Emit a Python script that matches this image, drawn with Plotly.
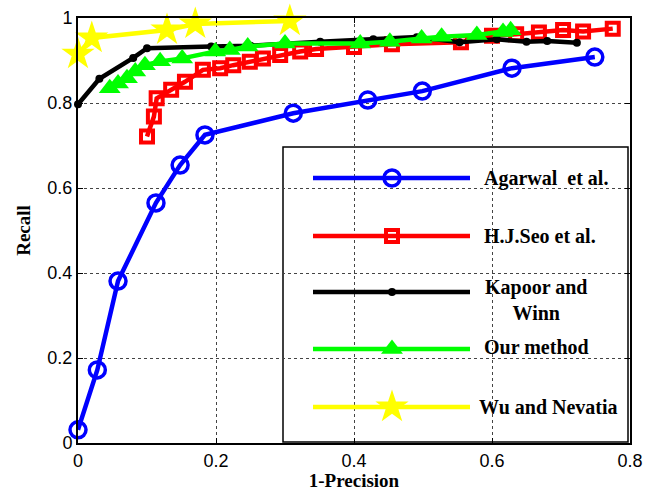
import plotly.graph_objects as go

# ---- data ----
agarwal_x = [0, 0.028, 0.058, 0.113, 0.148, 0.184, 0.312, 0.42, 0.499, 0.629, 0.749]
agarwal_y = [0.031, 0.172, 0.381, 0.565, 0.654, 0.725, 0.776, 0.807, 0.828, 0.882, 0.908]

seo_x = [0.100, 0.110, 0.114, 0.135, 0.155, 0.181, 0.206, 0.225, 0.249, 0.268, 0.293, 0.322,
         0.345, 0.40, 0.455, 0.555, 0.60, 0.635, 0.668, 0.703, 0.732, 0.775]
seo_y = [0.721, 0.768, 0.811, 0.831, 0.850, 0.878, 0.882, 0.889, 0.897, 0.905, 0.913, 0.921,
         0.927, 0.932, 0.938, 0.943, 0.958, 0.962, 0.966, 0.972, 0.968, 0.975]

kapoor_x = [0, 0.031, 0.080, 0.100, 0.193, 0.25, 0.351, 0.428, 0.491, 0.553, 0.607, 0.650, 0.680, 0.723]
kapoor_y = [0.797, 0.857, 0.906, 0.929, 0.933, 0.935, 0.944, 0.950, 0.955, 0.943, 0.950, 0.944, 0.946, 0.942]

our_x = [0.046, 0.058, 0.071, 0.083, 0.097, 0.119, 0.151, 0.199, 0.22, 0.246, 0.30,
         0.409, 0.452, 0.498, 0.527, 0.578, 0.616, 0.627]
our_y = [0.835, 0.846, 0.858, 0.874, 0.889, 0.898, 0.905, 0.921, 0.925, 0.933, 0.940,
         0.940, 0.944, 0.952, 0.956, 0.960, 0.967, 0.971]

wu_x = [0, 0.02, 0.129, 0.17, 0.307]
wu_y = [0.915, 0.953, 0.972, 0.986, 0.993]

names = ["Agarwal  et al.", "H.J.Seo et al.", "Kapoor and<br>Winn", "Our method", "Wu and Nevatia"]
x_ticks = [0, 0.2, 0.4, 0.6, 0.8]
x_tick_text = ["0", "0.2", "0.4", "0.6", "0.8"]
y_ticks = [0, 0.2, 0.4, 0.6, 0.8, 1]
y_tick_text = ["0", "0.2", "0.4", "0.6", "0.8", "1"]

# ---- styles ----
styles = [
    dict(color="#0000FF", symbol="circle-open", size=16, mlw=3.5),
    dict(color="#FF0000", symbol="square-open", size=12, mlw=4),
    dict(color="#000000", symbol="circle", size=8, mlw=0),
    dict(color="#00FF00", symbol="triangle-up", size=19, mlw=0),
    dict(color="#FFFF00", symbol="star", size=25, mlw=0),
]
series = [(agarwal_x, agarwal_y), (seo_x, seo_y), (kapoor_x, kapoor_y), (our_x, our_y), (wu_x, wu_y)]

fig = go.Figure()
for (xs, ys), st, nm in zip(series, styles, names):
    fig.add_trace(go.Scatter(
        x=xs, y=ys, mode="lines+markers", name=nm, showlegend=False, cliponaxis=False,
        line=dict(color=st["color"], width=4.5),
        marker=dict(symbol=st["symbol"], size=st["size"], color=st["color"],
                    line=dict(color=st["color"], width=st["mlw"])),
    ))

# ---- custom legend (on an overlay axis 0..1) ----
L, R, T, B = 78, 630, 18, 443
W, H = R - L, B - T
def px(x): return (x - L) / W
def py(y): return (B - y) / H

row_y = [178, 236, 292, 349, 407]
lx0, lx1, lm = px(313), px(470), px(392)
for st, yy in zip(styles, row_y):
    fig.add_trace(go.Scatter(
        x=[lx0, lm, lx1], y=[py(yy)] * 3, xaxis="x2", yaxis="y2",
        mode="lines", showlegend=False, hoverinfo="skip",
        line=dict(color=st["color"], width=4.5),
    ))
    fig.add_trace(go.Scatter(
        x=[lm], y=[py(yy)], xaxis="x2", yaxis="y2",
        mode="markers", showlegend=False, hoverinfo="skip",
        marker=dict(symbol=st["symbol"], size=st["size"], color=st["color"],
                    line=dict(color=st["color"], width=st["mlw"])),
    ))

text_y = [178, 236, 300, 347, 407]
text_x = [482, 482, 483, 482, 477]
for nm, ty, tx in zip(names, text_y, text_x):
    fig.add_annotation(x=px(tx), y=py(ty), xref="x2", yref="y2", text="<b>" + nm + "</b>",
                       showarrow=False, xanchor="left", yanchor="middle", align="center",
                       font=dict(family="Liberation Serif", size=20, color="black"))

fig.add_shape(type="rect", xref="paper", yref="paper",
              x0=px(283), x1=px(628), y0=py(442), y1=py(147),
              fillcolor="white", line=dict(color="black", width=1.5), layer="between")

axis_common = dict(showline=True, linecolor="black", linewidth=2, mirror="ticks",
                   ticks="inside", ticklen=5, tickcolor="black", tickwidth=1,
                   showgrid=True, gridcolor="#444444", griddash="3px,3px", gridwidth=1,
                   zeroline=False, automargin=False,
                   tickfont=dict(family="Liberation Sans", size=18, color="black"))

fig.update_layout(
    width=645, height=491,
    margin=dict(l=L, r=645 - R, t=T, b=491 - B),
    paper_bgcolor="white", plot_bgcolor="white",
    xaxis=dict(range=[0, 0.8], tickvals=x_ticks, ticktext=x_tick_text,
               title=dict(text="<b>1-Precision</b>", standoff=11,
                          font=dict(family="Liberation Serif", size=19, color="black")),
               **axis_common),
    yaxis=dict(range=[0, 1], tickvals=y_ticks, ticktext=y_tick_text,
               title=dict(text="<b>Recall</b>", standoff=12,
                          font=dict(family="Liberation Serif", size=19, color="black")),
               **axis_common),
    xaxis2=dict(range=[0, 1], overlaying="x", visible=False, fixedrange=True),
    yaxis2=dict(range=[0, 1], overlaying="y", visible=False, fixedrange=True),
)

fig.write_html("out.html")
